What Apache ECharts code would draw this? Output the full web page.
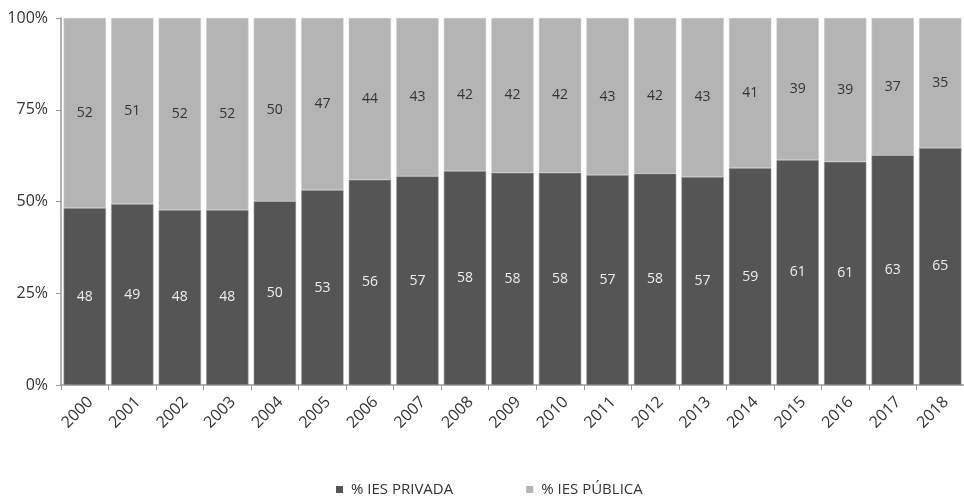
<!DOCTYPE html>
<html>
<head>
<meta charset="utf-8">
<script src="https://cdn.jsdelivr.net/npm/echarts@6/dist/echarts.min.js"></script>
<style>
  html, body { margin: 0; padding: 0; background: #fff; }
  #chart { width: 964px; height: 496px; }
</style>
</head>
<body>
<div id="chart"></div>
<script>
var years = ['2000', '2001', '2002', '2003', '2004', '2005', '2006', '2007', '2008', '2009',
  '2010', '2011', '2012', '2013', '2014', '2015', '2016', '2017', '2018'];
// % IES privada / pública
var privada = [48.2, 49.3, 47.7, 47.7, 50.1, 53.1, 55.9, 56.9, 58.3, 57.8,
  57.8, 57.2, 57.6, 56.7, 59.1, 61.3, 60.8, 62.6, 64.6];
var publica = [51.8, 50.7, 52.3, 52.3, 49.9, 46.9, 44.1, 43.1, 41.7, 42.2,
  42.2, 42.8, 42.4, 43.3, 40.9, 38.7, 39.2, 37.4, 35.4];
var yTicks = [0, 25, 50, 75, 100];

var font = '"Open Sans", "Noto Sans", sans-serif';
var chart = echarts.init(document.getElementById('chart'));

chart.setOption({
  animation: false,
  textStyle: { fontFamily: font },
  grid: { left: 61, right: 0, top: 18, bottom: 111, containLabel: false },
  legend: {
    top: 477,
    left: 331,
    itemWidth: 7,
    itemHeight: 7,
    itemGap: 73,
    icon: 'rect',
    itemStyle: { borderWidth: 0 },
    textStyle: { fontFamily: font, fontSize: 15, color: '#333', padding: [0, 0, 0, 3] },
    data: ['% IES PRIVADA', '% IES PÚBLICA']
  },
  xAxis: {
    type: 'category',
    data: years,
    axisLine: { lineStyle: { color: '#999', width: 1.5 } },
    axisTick: { show: true, length: 5, lineStyle: { color: '#999' } },
    axisLabel: {
      rotate: 45, fontSize: 16, color: '#333', margin: 9, fontFamily: font,
      verticalAlign: 'top'
    }
  },
  yAxis: {
    type: 'value',
    min: 0,
    max: 100,
    interval: 25,
    splitLine: { show: false },
    axisLine: { show: true, lineStyle: { color: '#999', width: 1.5 } },
    axisTick: { show: true, length: 5, lineStyle: { color: '#999' } },
    axisLabel: {
      fontSize: 16, color: '#333', margin: 13, fontFamily: font,
      formatter: function (v) { return yTicks.indexOf(v) >= 0 ? v + '%' : ''; }
    }
  },
  series: [{
    name: '% IES PRIVADA',
    type: 'bar',
    stack: 'total',
    barCategoryGap: '11%',
    data: privada,
    itemStyle: { color: '#555555', borderColor: '#9a9a9a', borderWidth: 0.5 },
    label: {
      show: true, position: 'inside', color: '#eee', fontSize: 14, fontFamily: font,
      formatter: function (p) { return Math.round(p.value); }
    }
  }, {
    name: '% IES PÚBLICA',
    type: 'bar',
    stack: 'total',
    data: publica,
    itemStyle: { color: '#b4b4b4', borderColor: '#cccccc', borderWidth: 0.5 },
    label: {
      show: true, position: 'inside', color: '#333', fontSize: 14, fontFamily: font,
      formatter: function (p) { return Math.round(p.value); }
    }
  }]
});
</script>
</body>
</html>
